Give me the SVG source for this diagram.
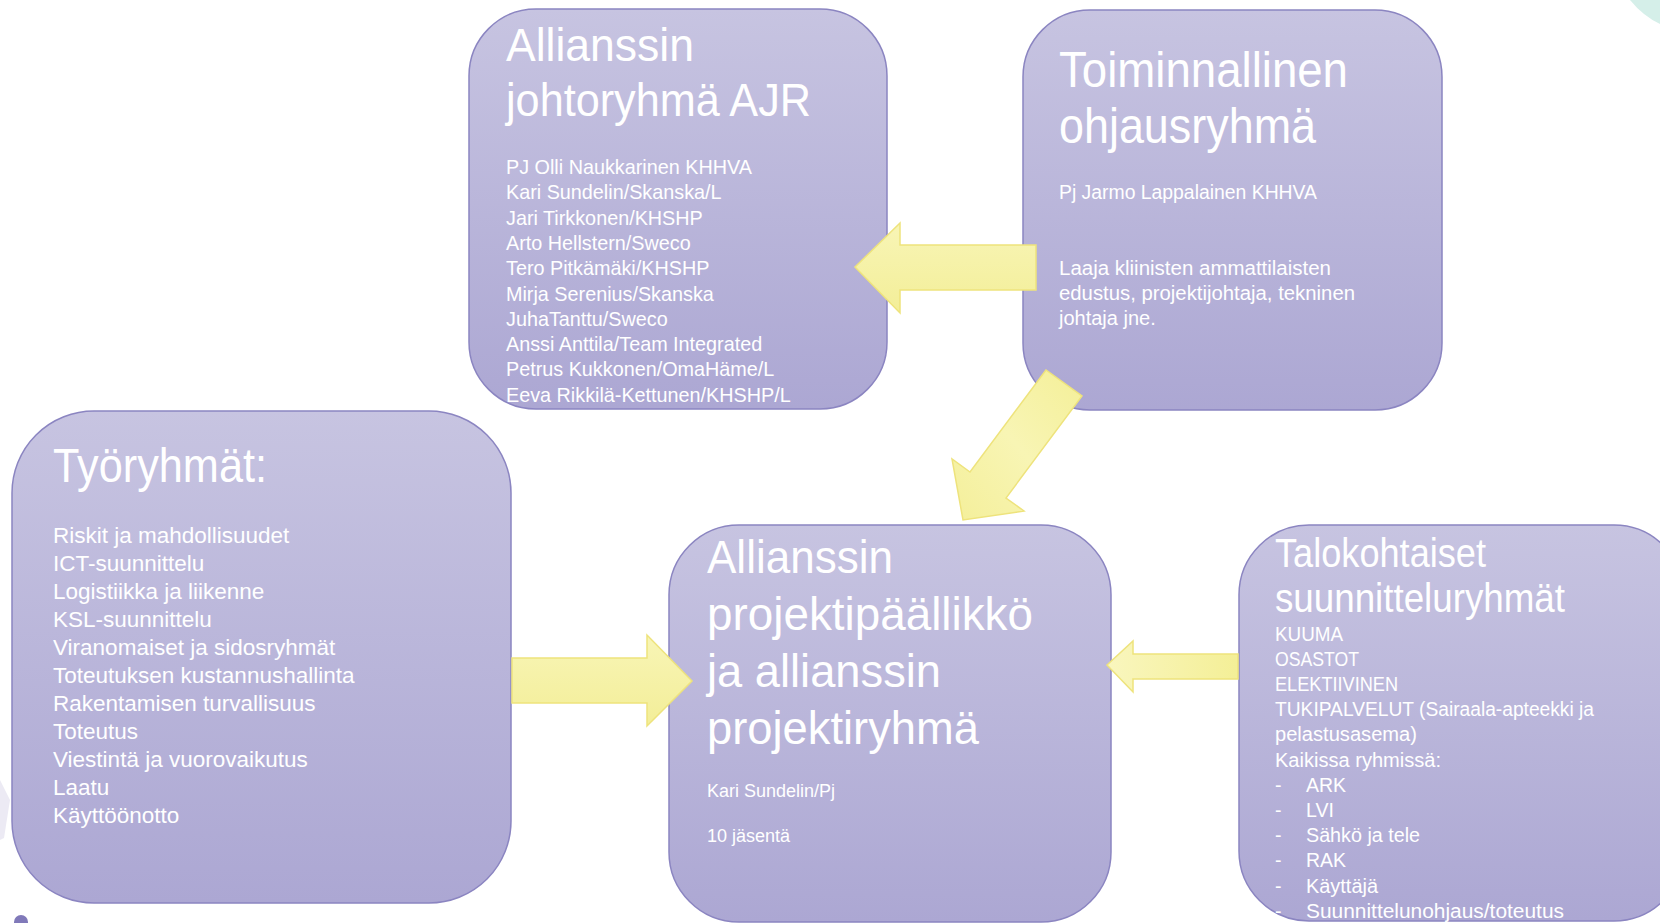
<svg xmlns="http://www.w3.org/2000/svg" width="1660" height="923" viewBox="0 0 1660 923">
  <defs>
    <linearGradient id="boxGrad" x1="0" y1="0" x2="0" y2="1">
      <stop offset="0" stop-color="#C7C4E1"/>
      <stop offset="1" stop-color="#ACA7D3"/>
    </linearGradient>
    <linearGradient id="arrowGradV" x1="0" y1="0" x2="0" y2="1">
      <stop offset="0" stop-color="#F8F5B6"/>
      <stop offset="1" stop-color="#F3EE98"/>
    </linearGradient>
    <linearGradient id="arrowGradH" x1="0" y1="0" x2="1" y2="0">
      <stop offset="0" stop-color="#F9F6BE"/>
      <stop offset="1" stop-color="#F4EF97"/>
    </linearGradient>
    <linearGradient id="arrowGradD" x1="1" y1="0" x2="0" y2="1">
      <stop offset="0" stop-color="#F4EF98"/>
      <stop offset="0.5" stop-color="#F8F5B4"/>
      <stop offset="1" stop-color="#F4EF9A"/>
    </linearGradient>
  </defs>
  <style>
    .box { fill: url(#boxGrad); stroke: #8B85C1; stroke-width: 1.5; }
    .arrow { stroke: #EEE37C; stroke-width: 1.5; stroke-linejoin: miter; }
    text { font-family: "Liberation Sans", Arial, sans-serif; fill: #FFFFFF; }
    .t1 { font-size: 46px; }
    .t2 { font-size: 50px; }
    .t3 { font-size: 49px; }
    .t4 { font-size: 47px; }
    .t5 { font-size: 40px; }
    .b1 { font-size: 19.8px; }
    .b2 { font-size: 20px; }
    .b3 { font-size: 22.5px; }
    .b4 { font-size: 18px; }
    .b5 { font-size: 19.5px; }
  </style>

  <!-- background decorations -->
  <path d="M1630,0 Q1643,16 1660,24 L1660,0 Z" fill="#D5EFE9"/>
  <path d="M0,780 L10,800 L4,838 L0,840 Z" fill="#ECEAF4"/>
  <circle cx="21" cy="922" r="7" fill="#8079B9"/>

  <g id="node-johtoryhma">
    <rect class="box" x="469" y="9" width="418" height="400" rx="67" ry="67"/>
    <text class="t1" x="506" y="61" textLength="188" lengthAdjust="spacingAndGlyphs">Allianssin</text>
    <text class="t1" x="506" y="116" textLength="305" lengthAdjust="spacingAndGlyphs">johtoryhmä AJR</text>
    <text class="b1" x="506" y="174">PJ Olli Naukkarinen KHHVA</text>
    <text class="b1" x="506" y="199">Kari Sundelin/Skanska/L</text>
    <text class="b1" x="506" y="224.5">Jari Tirkkonen/KHSHP</text>
    <text class="b1" x="506" y="250">Arto Hellstern/Sweco</text>
    <text class="b1" x="506" y="275">Tero Pitkämäki/KHSHP</text>
    <text class="b1" x="506" y="300.5">Mirja Serenius/Skanska</text>
    <text class="b1" x="506" y="325.5">JuhaTanttu/Sweco</text>
    <text class="b1" x="506" y="351">Anssi Anttila/Team Integrated</text>
    <text class="b1" x="506" y="376">Petrus Kukkonen/OmaHäme/L</text>
    <text class="b1" x="506" y="401.5">Eeva Rikkilä-Kettunen/KHSHP/L</text>
  </g>

  <g id="node-ohjausryhma">
    <rect class="box" x="1023" y="10" width="419" height="400" rx="67" ry="67"/>
    <text class="t2" x="1059" y="87" textLength="289" lengthAdjust="spacingAndGlyphs">Toiminnallinen</text>
    <text class="t2" x="1059" y="143" textLength="257" lengthAdjust="spacingAndGlyphs">ohjausryhmä</text>
    <text class="b2" x="1059" y="199" textLength="258" lengthAdjust="spacingAndGlyphs">Pj Jarmo Lappalainen KHHVA</text>
    <text class="b2" x="1059" y="275" textLength="272" lengthAdjust="spacingAndGlyphs">Laaja kliinisten ammattilaisten</text>
    <text class="b2" x="1059" y="300" textLength="296" lengthAdjust="spacingAndGlyphs">edustus, projektijohtaja, tekninen</text>
    <text class="b2" x="1059" y="325">johtaja jne.</text>
  </g>

  <g id="node-tyoryhmat">
    <rect class="box" x="12" y="411" width="499" height="492" rx="82" ry="82"/>
    <text class="t3" x="53" y="482" textLength="214" lengthAdjust="spacingAndGlyphs">Työryhmät:</text>
    <text class="b3" x="53" y="543">Riskit ja mahdollisuudet</text>
    <text class="b3" x="53" y="571">ICT-suunnittelu</text>
    <text class="b3" x="53" y="599">Logistiikka ja liikenne</text>
    <text class="b3" x="53" y="627">KSL-suunnittelu</text>
    <text class="b3" x="53" y="655">Viranomaiset ja sidosryhmät</text>
    <text class="b3" x="53" y="683">Toteutuksen kustannushallinta</text>
    <text class="b3" x="53" y="711">Rakentamisen turvallisuus</text>
    <text class="b3" x="53" y="739">Toteutus</text>
    <text class="b3" x="53" y="767">Viestintä ja vuorovaikutus</text>
    <text class="b3" x="53" y="795">Laatu</text>
    <text class="b3" x="53" y="823">Käyttöönotto</text>
  </g>

  <g id="node-projektiryhma">
    <rect class="box" x="669" y="525" width="442" height="397" rx="70" ry="70"/>
    <text class="t4" x="707" y="573" textLength="186" lengthAdjust="spacingAndGlyphs">Allianssin</text>
    <text class="t4" x="707" y="630" textLength="326" lengthAdjust="spacingAndGlyphs">projektipäällikkö</text>
    <text class="t4" x="707" y="687" textLength="234" lengthAdjust="spacingAndGlyphs">ja allianssin</text>
    <text class="t4" x="707" y="744" textLength="272" lengthAdjust="spacingAndGlyphs">projektiryhmä</text>
    <text class="b4" x="707" y="797">Kari Sundelin/Pj</text>
    <text class="b4" x="707" y="842">10 jäsentä</text>
  </g>

  <g id="node-suunnitteluryhmat">
    <rect class="box" x="1239" y="525" width="445" height="396" rx="70" ry="70"/>
    <text class="t5" x="1275" y="567" textLength="211" lengthAdjust="spacingAndGlyphs">Talokohtaiset</text>
    <text class="t5" x="1275" y="612" textLength="290" lengthAdjust="spacingAndGlyphs">suunnitteluryhmät</text>
    <text class="b5" x="1275" y="640.5" textLength="68" lengthAdjust="spacingAndGlyphs">KUUMA</text>
    <text class="b5" x="1275" y="665.7" textLength="84" lengthAdjust="spacingAndGlyphs">OSASTOT</text>
    <text class="b5" x="1275" y="690.9" textLength="123" lengthAdjust="spacingAndGlyphs">ELEKTIIVINEN</text>
    <text class="b5" x="1275" y="716.1" textLength="319" lengthAdjust="spacingAndGlyphs">TUKIPALVELUT (Sairaala-apteekki ja</text>
    <text class="b5" x="1275" y="741.3" textLength="142" lengthAdjust="spacingAndGlyphs">pelastusasema)</text>
    <text class="b5" x="1275" y="766.5" textLength="166" lengthAdjust="spacingAndGlyphs">Kaikissa ryhmissä:</text>
    <text class="b5" x="1275" y="791.7">-</text>
    <text class="b5" x="1306" y="791.7">ARK</text>
    <text class="b5" x="1275" y="816.9">-</text>
    <text class="b5" x="1306" y="816.9">LVI</text>
    <text class="b5" x="1275" y="842.1">-</text>
    <text class="b5" x="1306" y="842.1" textLength="114" lengthAdjust="spacingAndGlyphs">Sähkö ja tele</text>
    <text class="b5" x="1275" y="867.3">-</text>
    <text class="b5" x="1306" y="867.3">RAK</text>
    <text class="b5" x="1275" y="892.5">-</text>
    <text class="b5" x="1306" y="892.5" textLength="72" lengthAdjust="spacingAndGlyphs">Käyttäjä</text>
    <text class="b5" x="1275" y="917.7">-</text>
    <text class="b5" x="1306" y="917.7" textLength="258" lengthAdjust="spacingAndGlyphs">Suunnittelunohjaus/toteutus</text>
  </g>

  <g id="connectors">
    <polygon class="arrow" fill="url(#arrowGradV)" points="1036,245 900,245 900,223 855,267 900,313 900,290 1036,290"/>
    <polygon class="arrow" fill="url(#arrowGradD)" points="1046,370 970,472 952,459 963,520 1024,511 1006,498 1082,396"/>
    <polygon class="arrow" fill="url(#arrowGradV)" points="512,658 647,658 647,635 692,681 647,726 647,703 512,703"/>
    <polygon class="arrow" fill="url(#arrowGradH)" points="1238,654 1133,654 1133,641 1107,665 1133,692 1133,679 1238,679"/>
  </g>
</svg>
